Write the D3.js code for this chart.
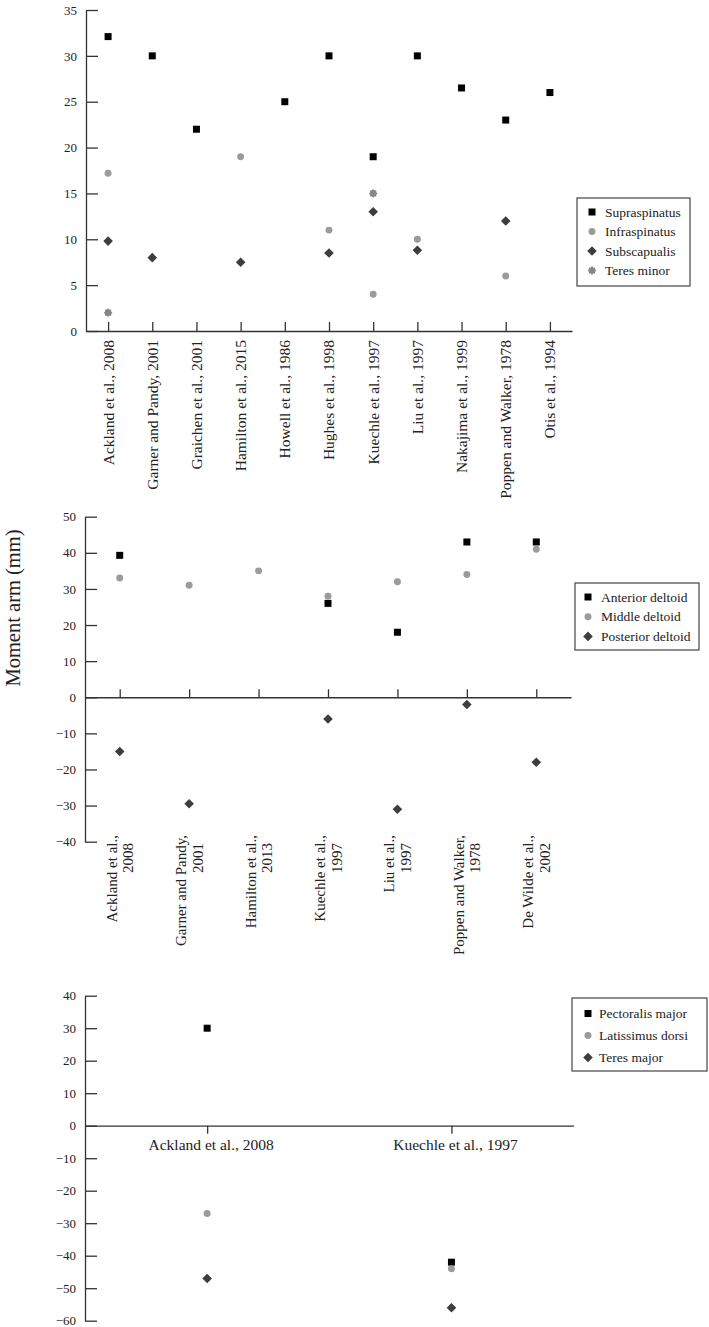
<!DOCTYPE html>
<html lang="en">
<head>
<meta charset="utf-8">
<script src="https://d3js.org/d3.v7.min.js"></script>
<style>
  body { margin: 0; background: #fff; }
  svg { display: block; }
  text { font-family: "Liberation Serif", "Times New Roman", serif; fill: #222; }
</style>
</head>
<body>
<script>
// ---- panel A: rotator cuff ----
var cuffStudies = ["Ackland et al., 2008", "Garner and Pandy, 2001", "Graichen et al., 2001",
  "Hamilton et al., 2015", "Howell et al., 1986", "Hughes et al., 1998", "Kuechle et al., 1997",
  "Liu et al., 1997", "Nakajima et al., 1999", "Poppen and Walker, 1978", "Otis et al., 1994"];
var supraspinatus = [32.1, 30, 22, null, 25, 30, 19, 30, 26.5, 23, 26];
var infraspinatus = [17.2, null, null, 19, null, 11, 4, 10, null, 6, null];
var subscapularis = [9.8, 8, null, 7.5, null, 8.5, 13, 8.8, null, 12, null];
var teresMinor    = [2, null, null, null, null, null, 15, null, null, null, null];
var cuffTicks = [0, 5, 10, 15, 20, 25, 30, 35];

// ---- panel B: deltoid ----
var deltStudies = [["Ackland et al.,", "2008"], ["Garner and Pandy,", "2001"], ["Hamilton et al.,", "2013"],
  ["Kuechle et al.,", "1997"], ["Liu et al.,", "1997"], ["Poppen and Walker,", "1978"], ["De Wilde et al.,", "2002"]];
var anteriorDeltoid  = [39.3, null, null, 26, 18, 43, 43];
var middleDeltoid    = [33, 31, 35, 28, 32, 34, 41];
var posteriorDeltoid = [-15, -29.5, null, -6, -31, -2, -18];
var deltTicks = [-40, -30, -20, -10, 0, 10, 20, 30, 40, 50];

// ---- panel C: pectoralis / latissimus / teres major ----
var otherStudies = ["Ackland et al., 2008", "Kuechle et al., 1997"];
var pectoralisMajor   = [30, -42];
var latissimusDorsi   = [-27, -44];
var teresMajor        = [-47, -56];
var otherTicks = [-60, -50, -40, -30, -20, -10, 0, 10, 20, 30, 40];

var yTitle = "Moment arm (mm)";

var svg = d3.select("body").append("svg")
  .attr("width", 709)
  .attr("height", 1327);

// custom burst marker for teres minor
var burst = {
  draw: function (ctx, size) {
    var r = Math.sqrt(size / Math.PI);
    for (var i = 0; i < 16; i++) {
      var a = i * Math.PI / 8;
      var rr = i % 2 ? r * 0.82 : r * 1.08;
      if (i === 0) ctx.moveTo(rr * Math.cos(a), rr * Math.sin(a));
      else ctx.lineTo(rr * Math.cos(a), rr * Math.sin(a));
    }
    ctx.closePath();
  }
};

var shapes = {
  square:  { path: d3.symbol().type(d3.symbolSquare).size(49)(), rot: 0 },
  circle:  { path: d3.symbol().type(d3.symbolCircle).size(38)(), rot: 0 },
  diamond: { path: d3.symbol().type(d3.symbolSquare).size(46)(), rot: 45 },
  burst:   { path: d3.symbol().type(burst).size(52)(), rot: 0 }
};

function fmt(d) { return d < 0 ? "\u2212" + Math.abs(d) : "" + d; }

function marker(g, shape, color, cx, cy) {
  g.append("path")
    .attr("d", shapes[shape].path)
    .attr("transform", "translate(" + cx + "," + cy + ") rotate(" + shapes[shape].rot + ")")
    .attr("fill", color);
}

function panel(cfg) {
  var g = svg.append("g");
  var x = d3.scalePoint().domain(d3.range(cfg.n)).range(cfg.xRange).padding(0.5);
  var y = d3.scaleLinear().domain(cfg.yDomain).range(cfg.yRange);

  var ya = g.append("g")
    .attr("transform", "translate(" + cfg.xRange[0] + ",0)")
    .call(d3.axisLeft(y).tickValues(cfg.ticks).tickSize(-12).tickSizeOuter(0).tickPadding(9).tickFormat(fmt));
  ya.selectAll("text").style("font-size", "13px").attr("fill", "#222");

  var xa = g.append("g")
    .attr("transform", "translate(0," + y(0) + ")")
    .call(d3.axisBottom(x).tickSize(cfg.xTick).tickSizeOuter(0).tickFormat(""));

  g.selectAll(".domain, .tick line").attr("stroke", "#333").attr("stroke-width", 1.3);

  cfg.series.forEach(function (s) {
    s.values.forEach(function (v, i) {
      if (v === null) return;
      marker(g, s.shape, s.color, x(i), y(v));
    });
  });

  // legend
  var L = cfg.legend;
  g.append("rect")
    .attr("x", L.x).attr("y", L.y).attr("width", L.w).attr("height", L.h)
    .attr("fill", "#fff").attr("stroke", "#444").attr("stroke-width", 1.2);
  cfg.series.forEach(function (s, i) {
    var ly = L.y + L.top + i * L.step;
    marker(g, s.shape, s.color, L.x + L.mx, ly);
    g.append("text")
      .attr("x", L.x + L.tx).attr("y", ly).attr("dy", "0.35em")
      .style("font-size", "13.5px")
      .text(s.name);
  });

  return { g: g, x: x, y: y };
}

var BLACK = "#000", LIGHT = "#9b9b9b", DARK = "#3d3d3d", MID = "#878787";

// panel A
var A = panel({
  n: cuffStudies.length, xRange: [86, 572], yDomain: [0, 35], yRange: [331, 10],
  ticks: cuffTicks, xTick: -9,
  series: [
    { name: "Supraspinatus", values: supraspinatus, shape: "square", color: BLACK },
    { name: "Infraspinatus", values: infraspinatus, shape: "circle", color: LIGHT },
    { name: "Subscapualis", values: subscapularis, shape: "diamond", color: DARK },
    { name: "Teres minor", values: teresMinor, shape: "burst", color: MID }
  ],
  legend: { x: 577, y: 198, w: 113, h: 88, top: 14, step: 19.5, mx: 15, tx: 28 }
});
cuffStudies.forEach(function (s, i) {
  A.g.append("text")
    .attr("transform", "translate(" + A.x(i) + ",340) rotate(-90)")
    .attr("text-anchor", "end").attr("dy", "0.35em")
    .style("font-size", "15.5px")
    .text(s);
});

// panel B
var B = panel({
  n: deltStudies.length, xRange: [85, 571], yDomain: [-40, 50], yRange: [841.7, 516.7],
  ticks: deltTicks, xTick: -8,
  series: [
    { name: "Anterior deltoid", values: anteriorDeltoid, shape: "square", color: BLACK },
    { name: "Middle deltoid", values: middleDeltoid, shape: "circle", color: LIGHT },
    { name: "Posterior deltoid", values: posteriorDeltoid, shape: "diamond", color: DARK }
  ],
  legend: { x: 575, y: 583, w: 124, h: 67, top: 14, step: 19.7, mx: 13, tx: 26 }
});
deltStudies.forEach(function (s, i) {
  B.g.append("text")
    .attr("transform", "translate(" + (B.x(i) - 8.3) + ",835) rotate(-90)")
    .attr("text-anchor", "end").attr("dy", "0.35em")
    .style("font-size", "15px")
    .text(s[0]);
  B.g.append("text")
    .attr("transform", "translate(" + (B.x(i) + 8.3) + ",843) rotate(-90)")
    .attr("text-anchor", "end").attr("dy", "0.35em")
    .style("font-size", "15px")
    .text(s[1]);
});

// panel C
var C = panel({
  n: otherStudies.length, xRange: [85, 573.6], yDomain: [-60, 40], yRange: [1320.7, 995.7],
  ticks: otherTicks, xTick: 8,
  series: [
    { name: "Pectoralis major", values: pectoralisMajor, shape: "square", color: BLACK },
    { name: "Latissimus dorsi", values: latissimusDorsi, shape: "circle", color: LIGHT },
    { name: "Teres major", values: teresMajor, shape: "diamond", color: DARK }
  ],
  legend: { x: 572, y: 998, w: 135, h: 73, top: 15.5, step: 22, mx: 16, tx: 27 }
});
otherStudies.forEach(function (s, i) {
  C.g.append("text")
    .attr("x", C.x(i) + 4).attr("y", 1150)
    .attr("text-anchor", "middle")
    .style("font-size", "15.5px")
    .text(s);
});

// shared y title
svg.append("text")
  .attr("transform", "translate(13,608) rotate(-90)")
  .attr("text-anchor", "middle").attr("dy", "0.35em")
  .style("font-size", "20.5px")
  .text(yTitle);
</script>
</body>
</html>
